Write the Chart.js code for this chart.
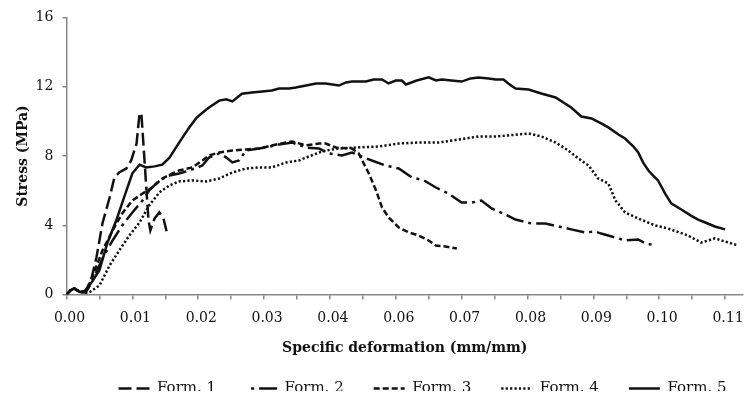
<!DOCTYPE html>
<html><head><meta charset="utf-8">
<script src="https://cdn.jsdelivr.net/npm/chart.js@4.4.0/dist/chart.umd.min.js"></script>
<style>html,body{margin:0;padding:0;background:#fff;}</style>
</head><body>
<canvas id="c" width="744" height="399"></canvas>
<script>
// ---- data ----
const seriesNames = ['Form. 1', 'Form. 2', 'Form. 3', 'Form. 4', 'Form. 5'];

const strain1 = [0,0.0007,0.0013,0.0022,0.0033,0.0042,0.005,0.006,0.0072,0.008,0.0088,0.01,0.0108,0.0117,0.0122,0.0125,0.013,0.0133,0.0137,0.014,0.0147,0.0155,0.0162,0.0168];
const stress1 = [0,0.25,0.35,0.12,0.23,0.98,2.14,4.1,5.6,6.76,7.05,7.28,7.74,8.72,10.46,10.46,7.91,6.3,4.27,3.7,4.39,4.74,4.39,3.52];

const strain2 = [0,0.0007,0.0013,0.0022,0.0032,0.0042,0.006,0.0077,0.0093,0.011,0.0127,0.0138,0.0155,0.0172,0.0188,0.0205,0.0227,0.0238,0.0255,0.0267,0.0277,0.0288,0.03,0.0333,0.0355,0.0377,0.04,0.0422,0.0438,0.046,0.0477,0.0493,0.051,0.0533,0.0555,0.0577,0.0597,0.0617,0.0638,0.066,0.0677,0.0693,0.071,0.0733,0.075,0.0777,0.08,0.0822,0.0843,0.0867,0.0883,0.0893,0.0917,0.0933,0.0955,0.0967,0.0985];
const stress2 = [0,0.25,0.35,0.15,0.12,0.69,2.08,3.12,3.99,4.74,5.43,6.01,6.59,6.87,6.99,7.16,7.45,7.91,8.15,7.91,7.63,7.74,8.32,8.49,8.67,8.78,8.49,8.43,8.15,8.03,8.2,7.97,7.74,7.45,7.28,6.76,6.59,6.18,5.83,5.31,5.31,5.43,4.97,4.62,4.33,4.1,4.1,3.93,3.76,3.58,3.64,3.52,3.29,3.12,3.18,2.95,2.83];

const strain3 = [0,0.0007,0.0013,0.0022,0.0032,0.0043,0.006,0.0077,0.0093,0.011,0.0127,0.0143,0.016,0.0177,0.0188,0.021,0.0227,0.0238,0.0255,0.0277,0.03,0.0322,0.0343,0.0367,0.0377,0.04,0.0422,0.0433,0.045,0.0477,0.0488,0.0505,0.0517,0.0527,0.0538,0.0555,0.0572,0.0588,0.0605,0.0617,0.0633,0.0652];
const stress3 = [0,0.25,0.35,0.15,0.15,0.98,2.54,3.7,4.68,5.43,5.83,6.18,6.7,6.99,7.16,7.34,7.74,8.03,8.2,8.32,8.38,8.43,8.61,8.78,8.84,8.61,8.72,8.72,8.49,8.43,8.15,6.99,6.01,5.03,4.45,3.87,3.58,3.41,3.12,2.83,2.77,2.66];

const strain4 = [0,0.0007,0.0013,0.0022,0.0032,0.0038,0.0055,0.0072,0.0088,0.0105,0.0122,0.0138,0.0155,0.0172,0.0188,0.021,0.0233,0.0255,0.0277,0.03,0.0322,0.0343,0.0367,0.0388,0.04,0.0422,0.0433,0.0455,0.0483,0.0522,0.0555,0.0588,0.0622,0.0655,0.0688,0.0717,0.0738,0.0772,0.0793,0.0817,0.0838,0.0855,0.0872,0.0888,0.0905,0.0917,0.0933,0.0955,0.0983,0.1005,0.1038,0.106,0.1083,0.1122];
const stress4 = [0,0.25,0.35,0.15,0.1,0.12,0.52,1.68,2.54,3.41,4.16,5.14,5.89,6.3,6.53,6.59,6.53,6.7,7.05,7.28,7.34,7.34,7.63,7.74,7.91,8.2,8.32,8.43,8.49,8.55,8.72,8.78,8.78,8.95,9.13,9.13,9.19,9.3,9.13,8.78,8.32,7.86,7.45,6.7,6.41,5.43,4.74,4.39,3.99,3.81,3.41,3.0,3.24,2.83];

const strain5 = [0,0.0007,0.0013,0.0022,0.003,0.0042,0.0055,0.0068,0.0083,0.0097,0.011,0.0122,0.0133,0.0147,0.016,0.0172,0.0183,0.0195,0.0205,0.0217,0.0227,0.0238,0.0255,0.0267,0.0277,0.0293,0.031,0.0327,0.0343,0.0355,0.0372,0.0383,0.04,0.0417,0.0433,0.0455,0.0467,0.0477,0.05,0.0513,0.0527,0.0538,0.055,0.056,0.0567,0.0585,0.0605,0.0617,0.0627,0.0643,0.066,0.0675,0.0688,0.0705,0.0717,0.073,0.0738,0.075,0.0772,0.0793,0.0817,0.083,0.0843,0.086,0.0877,0.0893,0.0905,0.0922,0.0933,0.0947,0.0955,0.0963,0.0972,0.098,0.0988,0.1,0.101,0.1027,0.1043,0.1055,0.1067,0.1083,0.11];
const stress5 = [0,0.25,0.35,0.15,0.17,0.7,1.4,2.95,4.27,5.7,7.0,7.5,7.34,7.4,7.5,7.9,8.5,9.13,9.65,10.2,10.5,10.8,11.2,11.27,11.15,11.6,11.67,11.73,11.78,11.9,11.9,11.96,12.07,12.19,12.19,12.07,12.25,12.3,12.3,12.42,12.42,12.19,12.36,12.36,12.13,12.36,12.54,12.36,12.42,12.36,12.3,12.48,12.54,12.48,12.42,12.42,12.19,11.9,11.84,11.61,11.38,11.09,10.8,10.28,10.17,9.88,9.65,9.24,9.01,8.55,8.2,7.63,7.16,6.87,6.59,5.83,5.26,4.91,4.56,4.33,4.16,3.93,3.76];

const xTickLabels = ['0.00','0.01','0.02','0.03','0.04','0.06','0.07','0.08','0.09','0.10','0.11'];
const xTickStep = 0.0055;
const yTickLabels = ['0','4','8','12','16'];

// ---- build datasets ----
const strains = [strain1, strain2, strain3, strain4, strain5];
const stresses = [stress1, stress2, stress3, stress4, stress5];
const dashes = [[13,5],[18,5,3,5],[6,3],[2.2,2.2],[]];
const dashOffsets = [0,18,0,0,0];
const widths = [2.5,2.5,2.5,2.5,2.5];

const datasets = seriesNames.map((name, k) => ({
  label: name,
  data: strains[k].map((x, i) => ({x: x, y: stresses[k][i]})),
  borderColor: '#111',
  backgroundColor: '#111',
  borderWidth: widths[k],
  borderDash: dashes[k],
  borderDashOffset: dashOffsets[k],
  pointRadius: 0,
  tension: 0,
  fill: false
}));

const legendShift = {
  id: 'legendShift',
  afterLayout(chart) {
    const l = chart.legend;
    if (l) { l.left += 51; l.right += 51; l.top -= 8; l.bottom -= 8; }
  }
};

function xLabel(v) {
  const idx = Math.round(v / xTickStep);
  return idx % 2 === 0 ? xTickLabels[idx / 2] : '';
}

new Chart(document.getElementById('c'), {
  type: 'line',
  data: {datasets},
  plugins: [legendShift],
  options: {
    responsive: false,
    animation: false,
    devicePixelRatio: 1,
    layout: {padding: {left: 0, right: 1, top: 8, bottom: 0}},
    plugins: {
      tooltip: {enabled: false},
      legend: {
        position: 'bottom',
        maxHeight: 40,
        labels: {
          usePointStyle: true,
          pointStyle: 'line',
          pointStyleWidth: 31,
          padding: 30,
          color: '#111',
          font: {family: 'DejaVu Serif', size: 15},
          generateLabels: (ch) => ch.data.datasets.map((ds, i) => ({
            text: ds.label,
            fillStyle: ds.borderColor,
            strokeStyle: ds.borderColor,
            fontColor: '#111',
            lineWidth: ds.borderWidth,
            lineDash: ds.borderDash,
            lineDashOffset: ds.borderDashOffset,
            lineCap: 'butt',
            pointStyle: 'line',
            hidden: false,
            datasetIndex: i
          }))
        }
      }
    },
    scales: {
      x: {
        type: 'linear',
        min: 0,
        max: 0.113,
        ticks: {
          stepSize: xTickStep,
          includeBounds: false,
          autoSkip: false,
          maxRotation: 0,
          padding: 2.5,
          labelOffset: 3,
          color: '#111',
          font: {family: 'DejaVu Serif', size: 14, lineHeight: '32.6px'},
          callback: function (v) { return xLabel(v); }
        },
        grid: {drawOnChartArea: false, drawTicks: true, tickLength: 5, color: '#888', lineWidth: 1.5},
        border: {color: '#888', width: 1.5},
        title: {display: true, text: 'Specific deformation (mm/mm)', color: '#111',
                font: {family: 'DejaVu Serif', size: 14, weight: 'bold'}, padding: {top: 2.5, bottom: 2.6}}
      },
      y: {
        min: 0,
        max: 16,
        ticks: {
          stepSize: 4,
          padding: 9.1,
          color: '#111',
          font: {family: 'DejaVu Serif', size: 14},
          callback: function (v) { return yTickLabels[Math.round(v / 4)]; }
        },
        grid: {drawOnChartArea: false, drawTicks: true, tickLength: 4, color: '#888', lineWidth: 1.5},
        border: {color: '#888', width: 1.5},
        title: {display: true, text: 'Stress (MPa)', color: '#111',
                font: {family: 'DejaVu Serif', size: 14, weight: 'bold'}, padding: {top: 15.1, bottom: -5.4}}
      }
    }
  }
});
</script>
</body></html>
